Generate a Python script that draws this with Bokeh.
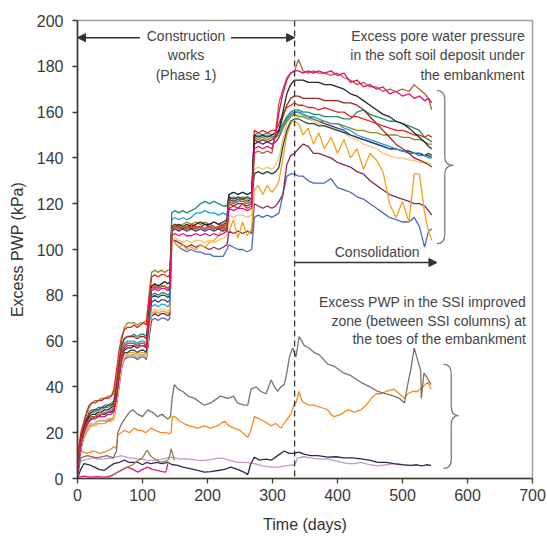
from bokeh.plotting import figure
from bokeh.models import Arrow, NormalHead, Label, Span, Range1d, FixedTicker
from bokeh.embed import file_html
from bokeh.resources import INLINE

# ---------------- data ----------------
# shared time grid (days) for the piezometers under the embankment
T_UP = [0, 3, 6, 10, 14, 18, 22, 27, 32, 37,
        42, 47, 52, 56, 60, 64, 68, 72, 77, 82,
        87, 92, 97, 102, 106, 110, 114, 119, 124, 129,
        134, 139, 142, 145, 150, 156, 162, 168, 175, 182,
        189, 196, 203, 210, 217, 224, 230, 233, 240, 247,
        254, 261, 268, 272, 278, 285, 292, 299, 305, 310,
        316, 322, 328, 334, 340, 347, 355, 363, 371, 380,
        390, 400, 410, 420, 430, 440, 450, 460, 470, 480,
        490, 500, 510, 518, 526, 534, 540, 545]

RED = [8, 16, 21, 25, 29, 32, 33, 33, 34, 34,
       35, 35, 36, 39, 47, 56, 62, 65, 66, 66,
       67, 66, 67, 68, 67, 78, 88, 89, 88, 89,
       89, 88, 89, 108, 110, 109, 110, 109, 111, 110,
       110, 109, 111, 110, 109, 110, 111, 118, 119, 118,
       120, 118, 119, 152, 151, 152, 151, 152, 152, 155,
       159, 162, 163, 164, 163, 163, 162, 162, 161, 162,
       161, 160, 160, 158, 158, 157, 156, 155, 154, 153,
       152, 152, 151, 150, 150, 149, 150, 149]
OLIVE = [6, 14, 20, 24, 28, 31, 33, 34, 34, 35,
         35, 36, 36, 37, 43, 52, 60, 66, 68, 68,
         68, 67, 68, 68, 69, 80, 90, 91, 90, 91,
         90, 91, 91, 110, 111, 110, 111, 112, 111, 112,
         111, 112, 111, 112, 111, 110, 112, 121, 120, 121,
         122, 121, 120, 149, 148, 149, 148, 149, 149, 150,
         153, 156, 158, 159, 158, 158, 157, 157, 156, 156,
         155, 155, 154, 153, 152, 152, 151, 151, 150, 150,
         150, 149, 149, 148, 148, 147, 146, 146]
BLACK = [4, 12, 18, 22, 25, 27, 28, 28, 29, 29,
         30, 30, 31, 32, 38, 47, 53, 56, 57, 57,
         58, 57, 58, 58, 57, 72, 84, 85, 84, 85,
         86, 85, 86, 109, 110, 111, 110, 111, 110, 111,
         112, 111, 111, 112, 111, 112, 113, 124, 125, 124,
         125, 124, 125, 150, 149, 150, 149, 150, 151, 152,
         160, 168, 172, 174, 174, 174, 173, 173, 173, 172,
         172, 171, 170, 168, 167, 165, 163, 161, 159, 158,
         156, 155, 153, 151, 149, 147, 145, 144]
TEAL = [7, 14, 19, 23, 26, 29, 30, 30, 31, 31,
        32, 32, 33, 34, 41, 50, 58, 61, 62, 62,
        63, 62, 63, 63, 62, 72, 80, 81, 80, 81,
        81, 80, 81, 116, 117, 116, 117, 116, 117, 118,
        120, 121, 120, 121, 120, 119, 119, 124, 125, 124,
        125, 124, 125, 150, 151, 150, 151, 150, 151, 152,
        155, 158, 160, 161, 161, 160, 160, 159, 159, 158,
        158, 158, 157, 157, 160, 161, 159, 158, 157, 156,
        156, 155, 154, 153, 152, 149, 148, 147]
CYAN = [6, 13, 18, 22, 25, 28, 29, 29, 30, 30,
        31, 31, 32, 33, 40, 49, 56, 59, 60, 60,
        60, 59, 60, 60, 59, 68, 75, 76, 75, 76,
        76, 75, 76, 113, 114, 113, 114, 113, 114, 116,
        116, 117, 116, 116, 115, 116, 115, 122, 123, 122,
        123, 122, 122, 149, 150, 149, 150, 149, 150, 151,
        154, 157, 159, 160, 160, 159, 158, 158, 157, 156,
        155, 155, 153, 152, 150, 149, 148, 147, 146, 145,
        144, 143, 142, 142, 141, 141, 140, 140]
DARKRED = [5, 12, 18, 22, 26, 28, 29, 30, 30, 31,
           31, 32, 32, 33, 40, 50, 58, 61, 62, 62,
           62, 61, 62, 62, 61, 73, 83, 84, 83, 84,
           84, 83, 84, 110, 111, 110, 109, 110, 109, 110,
           110, 111, 110, 109, 110, 111, 112, 123, 122, 123,
           122, 123, 122, 148, 147, 148, 147, 148, 149, 152,
           158, 163, 166, 167, 167, 166, 166, 166, 166, 165,
           165, 165, 164, 164, 163, 161, 158, 155, 152, 149,
           146, 144, 142, 140, 139, 138, 137, 136]
PINK = [3, 10, 16, 20, 23, 25, 26, 26, 27, 27,
        27, 28, 28, 29, 35, 44, 52, 57, 58, 58,
        58, 57, 58, 58, 57, 70, 82, 83, 82, 83,
        83, 82, 83, 106, 107, 106, 107, 106, 106, 107,
        106, 107, 106, 107, 106, 107, 108, 118, 117, 118,
        118, 117, 118, 144, 145, 144, 145, 144, 150, 160,
        168, 174, 177, 178, 178, 177, 178, 177, 178, 177,
        178, 176, 177, 173, 174, 171, 172, 170, 171, 168,
        169, 167, 168, 166, 167, 165, 166, 164]
BROWN = [5, 12, 17, 21, 24, 26, 27, 27, 28, 28,
         29, 29, 30, 31, 37, 46, 54, 58, 59, 59,
         59, 58, 59, 59, 58, 71, 83, 84, 83, 84,
         84, 83, 84, 109, 110, 109, 110, 109, 110, 109,
         110, 109, 110, 109, 110, 109, 110, 121, 120, 121,
         121, 120, 121, 142, 143, 142, 143, 142, 152, 164,
         170, 175, 177, 178, 183, 178, 177, 178, 177, 177,
         176, 177, 175, 174, 172, 173, 171, 171, 169, 170,
         169, 170, 169, 172, 170, 168, 166, 161]
DARKTEAL = [4, 11, 16, 20, 23, 25, 26, 27, 27, 28,
            28, 29, 29, 30, 36, 45, 52, 55, 55, 56,
            56, 55, 56, 56, 55, 68, 79, 80, 79, 80,
            80, 79, 80, 109, 110, 109, 110, 109, 110, 109,
            110, 109, 110, 109, 110, 109, 110, 122, 121, 122,
            122, 121, 122, 133, 134, 133, 134, 133, 134, 136,
            145, 152, 156, 157, 157, 156, 155, 155, 154, 154,
            153, 152, 151, 150, 149, 148, 147, 146, 145, 144,
            144, 143, 143, 142, 142, 141, 142, 141]
LIGHTORANGE = [4, 10, 15, 19, 21, 23, 24, 24, 25, 25,
               25, 26, 26, 27, 33, 42, 50, 53, 54, 54,
               54, 53, 54, 54, 53, 64, 73, 74, 73, 74,
               74, 73, 74, 104, 105, 104, 103, 104, 103, 104,
               104, 103, 104, 103, 104, 105, 106, 115, 114, 115,
               115, 114, 115, 135, 136, 135, 136, 135, 137, 140,
               148, 155, 158, 159, 159, 158, 157, 156, 155, 154,
               153, 152, 151, 149, 148, 146, 145, 144, 142, 141,
               140, 140, 139, 139, 138, 138, 138, 137]
GOLD = [4, 10, 14, 18, 20, 22, 23, 23, 24, 24,
        24, 25, 25, 26, 32, 41, 49, 53, 55, 55,
        55, 54, 55, 55, 54, 64, 72, 73, 72, 73,
        73, 72, 73, 105, 103, 101, 102, 100, 101, 100,
        102, 101, 103, 104, 106, 110, 108, 108, 113, 105,
        112, 106, 109, 126, 128, 124, 128, 125, 127, 130,
        140, 150, 155, 156, 155, 150, 153, 146, 151, 144,
        149, 142, 148, 140, 144, 135, 142, 139, 134, 120,
        114, 121, 112, 133, 133, 116, 108, 104]
MAROON = [3, 9, 14, 18, 21, 23, 24, 24, 25, 25,
          25, 26, 26, 27, 33, 42, 50, 53, 54, 54,
          54, 53, 54, 54, 53, 62, 71, 72, 71, 72,
          72, 71, 72, 104, 104, 103, 102, 101, 102, 101,
          102, 101, 100, 101, 100, 101, 102, 108, 107, 108,
          107, 108, 107, 120, 119, 118, 119, 118, 119, 121,
          124, 137, 141, 142, 144, 146, 145, 142, 142, 141,
          140, 138, 137, 136, 134, 133, 130, 128, 126, 124,
          123, 122, 121, 120, 120, 119, 117, 115]
BLUE = [3, 9, 14, 18, 21, 23, 24, 24, 25, 25,
        25, 25, 26, 27, 32, 40, 48, 52, 53, 53,
        53, 52, 53, 53, 52, 61, 69, 70, 69, 70,
        70, 69, 70, 105, 103, 101, 100, 99, 100, 99,
        99, 98, 98, 97, 97, 97, 100, 102, 101, 100,
        100, 99, 100, 114, 115, 114, 115, 114, 115, 116,
        124, 132, 133, 133, 132, 132, 130, 129, 129, 129,
        131, 127, 126, 125, 123, 122, 120, 118, 116, 114,
        113, 112, 112, 114, 110, 101, 108, 109]
PURPLE = [5, 12, 17, 21, 24, 26, 27, 27, 28, 28,
          28, 29, 29, 30, 36, 45, 55, 58, 59, 59,
          59, 58, 59, 59, 58, 68, 77, 78, 77, 78,
          78, 77, 78, 108, 109, 108, 109, 108, 109, 108,
          109, 108, 109, 108, 109, 108, 109, 120, 119, 120,
          120, 119, 120, 146, 147, 146, 147, 146, 147, 149,
          153, 157, 159, 160, 160, 159, 158, 157, 156, 155,
          154, 153, 152, 150, 149, 148, 147, 146, 145, 144,
          144, 143, 143, 142, 142, 141, 141, 140]

# piezometers in the SSI improved zone (time, excess PWP)
GRAY_SSI = [(0, 0), (5, 9), (15, 10), (30, 9), (45, 10), (55, 9), (60, 12), (62, 20),
            (68, 24), (75, 27), (80, 29), (85, 30), (93, 28), (100, 27), (108, 30),
            (115, 29), (123, 27), (130, 28), (139, 26), (143, 27), (146, 36), (149, 41),
            (155, 39), (162, 38), (170, 36), (180, 35), (195, 32), (205, 33), (210, 34),
            (220, 36), (231, 35), (240, 36), (246, 33), (256, 32), (262, 32), (267, 39),
            (275, 40), (282, 38), (290, 37), (298, 43), (303, 40), (308, 38), (313, 40),
            (318, 41), (322, 46), (326, 53), (331, 57), (336, 53), (341, 62), (345, 60),
            (349, 58), (356, 57), (364, 55), (372, 54), (385, 50), (395, 49), (410, 46),
            (420, 45), (436, 42), (450, 40), (462, 38), (475, 37), (487, 36), (495, 35),
            (503, 33), (508, 41), (513, 48), (518, 57), (523, 52), (528, 47), (529, 35),
            (533, 46), (538, 44), (544, 41)]
ORANGE_SSI = [(0, 11), (5, 12), (15, 11), (25, 12), (35, 11), (45, 12), (52, 13), (56, 14),
              (60, 13), (62, 19), (67, 20), (72, 21), (80, 20), (87, 22), (93, 21), (98, 21),
              (105, 20), (113, 22), (120, 21), (128, 20), (135, 20), (141, 19.6), (144, 20),
              (146, 27), (150, 27), (157, 25), (164, 24), (172, 23), (185, 22), (195, 23),
              (205, 22), (215, 23), (226, 25), (233, 23), (241, 22), (250, 21), (262, 18),
              (267, 21), (272, 27), (280, 26), (287, 25), (298, 23), (305, 24), (313, 22),
              (320, 25), (328, 28), (333, 32), (336, 33), (341, 38), (345, 34), (349, 33),
              (356, 32), (364, 32), (375, 31), (385, 30), (390, 28), (395, 27), (405, 28),
              (416, 30), (426, 29), (436, 30), (444, 32), (452, 35), (460, 37), (467, 37),
              (475, 38), (487, 39), (495, 37), (503, 35), (508, 37), (515, 38), (523, 38),
              (531, 40), (539, 42), (544, 39)]
NAVY_SSI = [(0, 0), (5, 4), (10, 6.5), (18, 6), (26, 5), (33, 4), (41, 3.5), (48, 5),
            (56, 6.5), (64, 7), (72, 8), (80, 7), (93, 7), (100, 6), (106, 7), (113, 6.5),
            (122, 7), (130, 6.5), (139, 7), (146, 6), (154, 5.7), (162, 5), (170, 4.5),
            (175, 4.2), (185, 3.5), (195, 2.8), (205, 3), (216, 3.5), (226, 4), (236, 5),
            (246, 4), (256, 2.8), (262, 1.7), (266, 6), (272, 9.3), (280, 8), (290, 8.5),
            (298, 8), (308, 10), (318, 12), (325, 11), (333, 11), (340, 11.5), (350, 10.5),
            (359, 10), (370, 10), (385, 9.3), (398, 9.5), (410, 9), (423, 9), (436, 8.6),
            (449, 8), (462, 7), (475, 7), (487, 6.5), (500, 6), (513, 5.7), (522, 6),
            (530, 5.5), (537, 6), (544, 5.7)]
LILAC_SSI = [(0, 7), (10, 8), (23, 9), (32, 8.5), (41, 8.6), (55, 9), (67, 10), (80, 9),
             (93, 8.6), (105, 8), (118, 7.9), (130, 8.5), (144, 9.3), (157, 8.5), (170, 8.6),
             (183, 8), (195, 7.9), (208, 8.5), (221, 9), (233, 8), (246, 7.1), (259, 7),
             (272, 6.5), (285, 5.5), (298, 5), (308, 5), (320, 5.5), (333, 6), (336, 7),
             (338, 9), (348, 9.5), (359, 9), (372, 8.5), (385, 8.6), (400, 7.5), (416, 6.5),
             (426, 6.5), (436, 7), (450, 6), (462, 5.5), (475, 6), (487, 6.5), (492, 6)]
PINK_SSI = [(0, 0.5), (10, 1), (20, 0.6), (30, 0.8), (41, 0.6), (50, 1), (62, 2.8), (70, 4),
            (77, 5), (85, 4), (93, 2.8), (100, 4), (108, 5), (115, 4), (123, 3.5), (130, 3),
            (136, 2.8), (139, 6.5)]
OLIVE_SSI = [(47, 0.5), (55, 1.5), (62, 2.8), (70, 4), (77, 5), (85, 6), (93, 7.9), (100, 9),
             (106, 12), (108, 12.2), (112, 10), (115, 9.3), (122, 8), (128, 7.1), (134, 7.5),
             (139, 7.9), (142, 10), (144, 13), (147, 10), (149, 7.9)]

X_TICKS = [0, 100, 200, 300, 400, 500, 600, 700]
Y_TICKS = [0, 20, 40, 60, 80, 100, 120, 140, 160, 180, 200]
END_OF_CONSTRUCTION = 334

UPPER = [
    (BLUE, "#4a6cb4"), (MAROON, "#8b2850"), (GOLD, "#f2a21c"), (LIGHTORANGE, "#f5c46e"),
    (DARKTEAL, "#1e4b47"), (PURPLE, "#463a8c"), (CYAN, "#1da1d9"), (TEAL, "#1f8f74"),
    (OLIVE, "#8c8a2c"), (DARKRED, "#8e2b1c"), (RED, "#e8231c"), (BLACK, "#272720"),
    (BROWN, "#b3622b"), (PINK, "#e5097f"),
]
LOWER = [
    (LILAC_SSI, "#c59bc6"), (NAVY_SSI, "#2d2b4e"), (PINK_SSI, "#e6187a"),
    (OLIVE_SSI, "#8d8058"), (ORANGE_SSI, "#f7891f"), (GRAY_SSI, "#7d716b"),
]

# ---------------- figure ----------------
FONT = "Liberation Sans"
p = figure(width=547, height=539, output_backend="svg", toolbar_location=None,
           x_range=Range1d(0, 700), y_range=Range1d(0, 200),
           min_border_left=77, min_border_right=15, min_border_top=20, min_border_bottom=61)
p.xgrid.visible = False
p.ygrid.visible = False
p.outline_line_color = "#a79f90"
p.outline_line_width = 1.5
p.background_fill_color = "white"
p.border_fill_color = "white"

for ax in (p.xaxis[0], p.yaxis[0]):
    ax.axis_line_color = "#3d3d33"
    ax.axis_line_width = 1.6
    ax.major_tick_line_color = "#3d3d33"
    ax.major_tick_line_width = 1.3
    ax.major_tick_out = 5
    ax.major_tick_in = 0
    ax.minor_tick_line_color = None
    ax.major_label_text_font = FONT
    ax.major_label_text_font_size = "16px"
    ax.major_label_text_color = "#3a3a3a"
    ax.axis_label_text_font = FONT
    ax.axis_label_text_font_size = "16px"
    ax.axis_label_text_font_style = "normal"
    ax.axis_label_text_color = "#333333"

p.xaxis[0].ticker = FixedTicker(ticks=X_TICKS)
p.yaxis[0].ticker = FixedTicker(ticks=Y_TICKS)
p.xaxis[0].axis_label = "Time (days)"
p.yaxis[0].axis_label = "Excess PWP (kPa)"
p.xaxis[0].major_label_standoff = 5
p.yaxis[0].major_label_standoff = 9
p.xaxis[0].axis_label_standoff = 12
p.yaxis[0].axis_label_standoff = 8

# lower group first
for pts, col in LOWER:
    p.line([a for a, b in pts], [b for a, b in pts], line_color=col, line_width=1.3)

for vals, col in UPPER:
    assert len(vals) == len(T_UP), (col, len(vals))
    p.line(T_UP, vals, line_color=col, line_width=1.3)

# end of construction
p.add_layout(Span(location=END_OF_CONSTRUCTION, dimension="height", line_color="#333333",
                  line_width=1.3, line_dash="6 4"))

# arrows
ARROW_COL = "#333333"
def arrow(x0, x1, y):
    p.add_layout(Arrow(end=NormalHead(size=8, fill_color=ARROW_COL, line_color=ARROW_COL),
                       x_start=x0, y_start=y, x_end=x1, y_end=y,
                       line_color=ARROW_COL, line_width=1.5))

arrow(96, 0, 192.5)
arrow(236, END_OF_CONSTRUCTION, 192.5)
arrow(END_OF_CONSTRUCTION, 553, 94.3)

def label(x, y, text, align="center", size="14px"):
    p.add_layout(Label(x=x, y=y, text=text, text_font=FONT, text_font_size=size,
                       text_color="#454545", text_align=align, text_baseline="middle"))

label(167, 193.4, "Construction")
label(167, 185.0, "works")
label(167, 176.4, "(Phase 1)")
label(461, 98.8, "Consolidation")
label(688, 193.4, "Excess pore water pressure", "right")
label(688, 185.0, "in the soft soil deposit under", "right")
label(688, 176.4, "the embankment", "right")
label(690, 76.9, "Excess PWP in the SSI improved", "right")
label(690, 68.6, "zone (between SSI columns) at", "right")
label(690, 60.7, "the toes of the embankment", "right")

# curly braces
BR_COL = "#7a7a7a"
def brace(x0, xm, xt, ytop, ymid, ybot, h):
    kw = dict(line_color=BR_COL, line_width=1.3)
    p.quadratic(x0=[x0], y0=[ytop], x1=[xm], y1=[ytop - h], cx=[xm], cy=[ytop], **kw)
    p.segment(x0=[xm], y0=[ytop - h], x1=[xm], y1=[ymid + h], **kw)
    p.quadratic(x0=[xm], y0=[ymid + h], x1=[xt], y1=[ymid], cx=[xm], cy=[ymid], **kw)
    p.quadratic(x0=[xt], y0=[ymid], x1=[xm], y1=[ymid - h], cx=[xm], cy=[ymid], **kw)
    p.segment(x0=[xm], y0=[ymid - h], x1=[xm], y1=[ybot + h], **kw)
    p.quadratic(x0=[xm], y0=[ybot + h], x1=[x0], y1=[ybot], cx=[xm], cy=[ybot], **kw)

brace(553, 565, 578, 169.4, 136.7, 102.6, 4)
brace(563, 575, 586, 49.8, 27.5, 4.4, 4)

open("out.html", "w").write(file_html(p, INLINE))
